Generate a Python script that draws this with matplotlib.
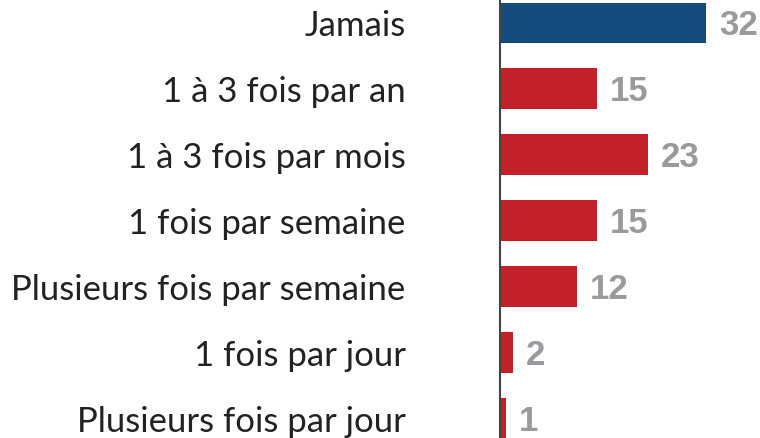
import matplotlib.pyplot as plt
from matplotlib import font_manager

categories = ["Jamais", "1 à 3 fois par an", "1 à 3 fois par mois", "1 fois par semaine",
              "Plusieurs fois par semaine", "1 fois par jour", "Plusieurs fois par jour"]
values = [32, 15, 23, 15, 12, 2, 1]
colors = ["#164b7d", "#c3202a", "#c3202a", "#c3202a", "#c3202a", "#c3202a", "#c3202a"]

names = {f.name for f in font_manager.fontManager.ttflist}
num_font = "Liberation Sans Narrow" if "Liberation Sans Narrow" in names else "Liberation Sans"

fig = plt.figure(figsize=(7.6, 4.38), dpi=100)
ax = fig.add_axes([500 / 760, 0, 260 / 760, 1])

y = list(range(len(categories)))
bars = ax.barh(y, values, height=0.62, color=colors)
ax.set_ylim(6.29, -0.348)
ax.set_xlim(0, 40.3)

for spine in ["top", "right", "bottom"]:
    ax.spines[spine].set_visible(False)
ax.spines["left"].set_color("#444444")
ax.spines["left"].set_linewidth(1.5)

ax.set_xticks([])
ax.set_yticks(y)
ax.set_yticklabels(categories, fontsize=25, family="Lato", color="#222222")
ax.tick_params(axis="y", length=0, pad=68)

for b, v in zip(bars, values):
    ax.annotate(str(v), (b.get_width(), b.get_y() + b.get_height() / 2),
                xytext=(9, -2), textcoords="offset points", va="center", ha="left",
                fontsize=25, fontweight="bold", family=num_font, color="#999a9d")

fig.savefig("out.png", dpi=100)
